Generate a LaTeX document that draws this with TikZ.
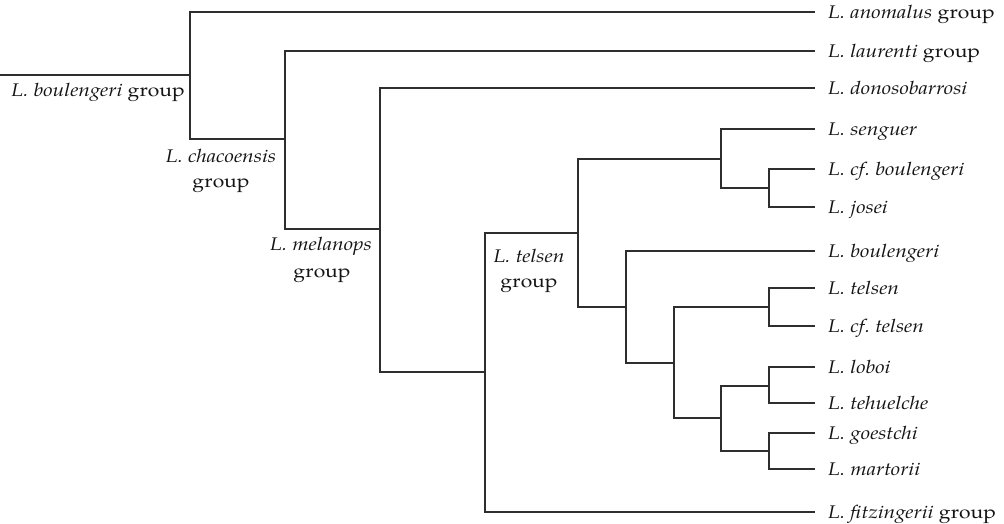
\documentclass[tikz,border=0pt]{standalone}
\usepackage{fontspec}
\setmainfont{TeX Gyre Pagella}[FakeStretch=1.15]
\frenchspacing
\begin{document}
\begin{tikzpicture}[x=1pt,y=-1pt,
  br/.style={draw=black!82, line width=1.4pt},
  txt/.style={font=\fontsize{18.3}{22}\selectfont, text=black!92, inner sep=0pt},
  leaf/.style={txt, anchor=west, inner xsep=13pt, inner ysep=0pt, text height=12.4pt, text depth=0pt}]
\useasboundingbox (0,0) rectangle (1004,523);
% internal points
\coordinate (R) at (0,75);
\coordinate (A) at (190,75);
\coordinate (B) at (285,139);
\coordinate (C) at (380,229);
\coordinate (D) at (485,372);
\coordinate (E) at (578,233);
\coordinate (F) at (721,159);
\coordinate (G) at (626,307);
\coordinate (H) at (769,188);
\coordinate (I) at (674,363);
\coordinate (J) at (769,307);
\coordinate (K) at (721,418);
\coordinate (L) at (769,386);
\coordinate (M) at (769,451);
% leaves
\node[leaf] (anom) at (815,12) {\textit{L. anomalus} group};
\node[leaf] (laur) at (815,51) {\textit{L. laurenti} group};
\node[leaf] (dono) at (815,88) {\textit{L. donosobarrosi}};
\node[leaf] (seng) at (815,129) {\textit{L. senguer}};
\node[leaf] (cfbo) at (815,169) {\textit{L. cf. boulengeri}};
\node[leaf] (jose) at (815,207) {\textit{L. josei}};
\node[leaf] (boul) at (815,251) {\textit{L. boulengeri}};
\node[leaf] (tels) at (815,288) {\textit{L. telsen}};
\node[leaf] (cfte) at (815,326) {\textit{L. cf. telsen}};
\node[leaf] (lobo) at (815,367) {\textit{L. loboi}};
\node[leaf] (tehu) at (815,403) {\textit{L. tehuelche}};
\node[leaf] (goes) at (815,433) {\textit{L. goestchi}};
\node[leaf] (mart) at (815,469) {\textit{L. martorii}};
\node[leaf] (fitz) at (815,512) {\textit{L. fitzingerii} group};
% group labels
\node[txt, anchor=base east] (boulgrp) at (185,96) {\textit{L. boulengeri} group};
\node[txt, anchor=base] (chaco1) at (221,162) {\textit{L. chacoensis}};
\node[txt, anchor=base] (chaco2) at (221,187) {group};
\node[txt, anchor=base] (melan1) at (321,250) {\textit{L. melanops}};
\node[txt, anchor=base] (melan2) at (322,277) {group};
\node[txt, anchor=base] (tels1) at (529,262) {\textit{L. telsen}};
\node[txt, anchor=base] (tels2) at (529,287) {group};
% branches
\draw[br] (R) -- (A);
\draw[br] (A) |- (anom.west);
\draw[br] (A) |- (B);
\draw[br] (B) |- (laur.west);
\draw[br] (B) |- (C);
\draw[br] (C) |- (dono.west);
\draw[br] (C) |- (D);
\draw[br] (D) |- (E);
\draw[br] (D) |- (fitz.west);
\draw[br] (E) |- (F);
\draw[br] (E) |- (G);
\draw[br] (F) |- (seng.west);
\draw[br] (F) |- (H);
\draw[br] (H) |- (cfbo.west);
\draw[br] (H) |- (jose.west);
\draw[br] (G) |- (boul.west);
\draw[br] (G) |- (I);
\draw[br] (I) |- (J);
\draw[br] (I) |- (K);
\draw[br] (J) |- (tels.west);
\draw[br] (J) |- (cfte.west);
\draw[br] (K) |- (L);
\draw[br] (K) |- (M);
\draw[br] (L) |- (lobo.west);
\draw[br] (L) |- (tehu.west);
\draw[br] (M) |- (goes.west);
\draw[br] (M) |- (mart.west);
\end{tikzpicture}
\end{document}
